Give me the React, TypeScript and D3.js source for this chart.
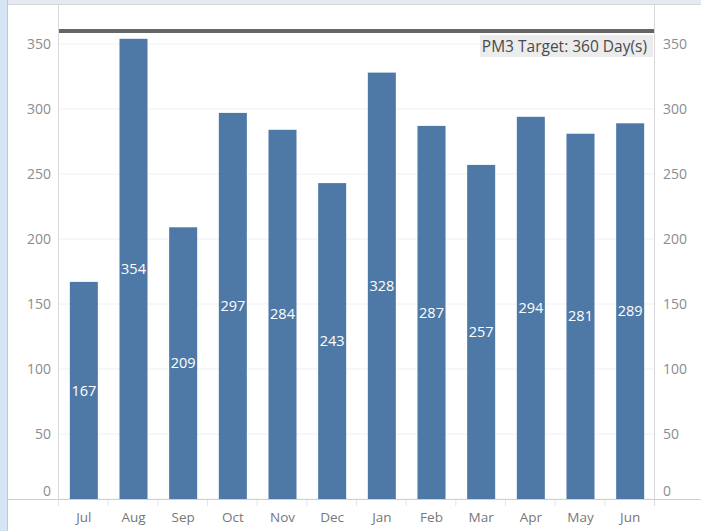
import React from "react";
import * as d3 from "d3";

const months = ["Jul", "Aug", "Sep", "Oct", "Nov", "Dec", "Jan", "Feb", "Mar", "Apr", "May", "Jun"];
const values = [167, 354, 209, 297, 284, 243, 328, 287, 257, 294, 281, 289];
const yTicks = [0, 50, 100, 150, 200, 250, 300, 350];
const target = 360;
const targetLabel = "PM3 Target: 360 Day(s)";

const W = 701;
const H = 531;
const left = 59;
const right = 655;
const top = 5;
const bottom = 499;

export default function App() {
  const x = d3.scaleBand<string>().domain(months).range([left, right]).paddingInner(0.436).paddingOuter(0.218);
  const y = d3.scaleLinear().domain([0, 380]).range([bottom, bottom - 380 * 1.3]);
  const font = "'Open Sans', sans-serif";
  const step = x.step();
  const tickY = (t: number) => (t === 0 ? y(t) - 8 : y(t));
  return (
    <svg width={W} height={H} style={{ position: "absolute", left: 0, top: 0, background: "#fff" }} fontFamily={font}>
      <rect x={0} y={0} width={W} height={4} fill="#e5e9f1" />
      <line x1={0} x2={W} y1={4.5} y2={4.5} stroke="#d4d6da" />
      <rect x={0} y={0} width={7} height={H} fill="#d6e5f5" />
      <line x1={7.5} x2={7.5} y1={0} y2={H} stroke="#c4c8cc" />
      {yTicks.map((t) => (
        <line key={"g" + t} x1={left} x2={right - 1} y1={y(t)} y2={y(t)} stroke="#f0f0f0" />
      ))}
      {yTicks.map((t) => (
        <g key={"t" + t}>
          <text x={51} y={tickY(t)} dy="0.35em" textAnchor="end" fontSize={14} fill="#8c8c8c">{t}</text>
          <text x={663} y={tickY(t)} dy="0.35em" textAnchor="start" fontSize={14} fill="#8c8c8c">{t}</text>
        </g>
      ))}
      {months.map((m, i) => (
        <g key={m}>
          <rect x={x(m)} y={y(values[i])} width={x.bandwidth()} height={y(0) - y(values[i])} fill="#4e79a7" />
          <text x={(x(m) as number) + x.bandwidth() / 2} y={(y(values[i]) + y(0)) / 2} dy="0.35em" textAnchor="middle" fontSize={14.5} fill="#fff">{values[i]}</text>
          <text x={(x(m) as number) + x.bandwidth() / 2} y={517} dy="0.35em" textAnchor="middle" fontSize={13.5} fill="#777">{m}</text>
        </g>
      ))}
      {months.map((m, i) => (
        <line key={"d" + m} x1={left - 0.5 + i * step} x2={left - 0.5 + i * step} y1={bottom} y2={506} stroke="#e6e6e6" />
      ))}
      <line x1={left - 0.5} x2={left - 0.5} y1={top} y2={bottom} stroke="#d9d9d9" />
      <line x1={right - 0.5} x2={right - 0.5} y1={top} y2={506} stroke="#d9d9d9" />
      <line x1={8} x2={W} y1={bottom + 0.5} y2={bottom + 0.5} stroke="#d0d0d0" />
      <line x1={left} x2={right - 1} y1={y(target)} y2={y(target)} stroke="#666" strokeWidth={4} />
      <rect x={480} y={35} width={173} height={22} fill="#ececec" />
      <text x={647} y={47} dy="0.35em" textAnchor="end" fontSize={15.5} fill="#4a4a4a">{targetLabel}</text>
    </svg>
  );
}
